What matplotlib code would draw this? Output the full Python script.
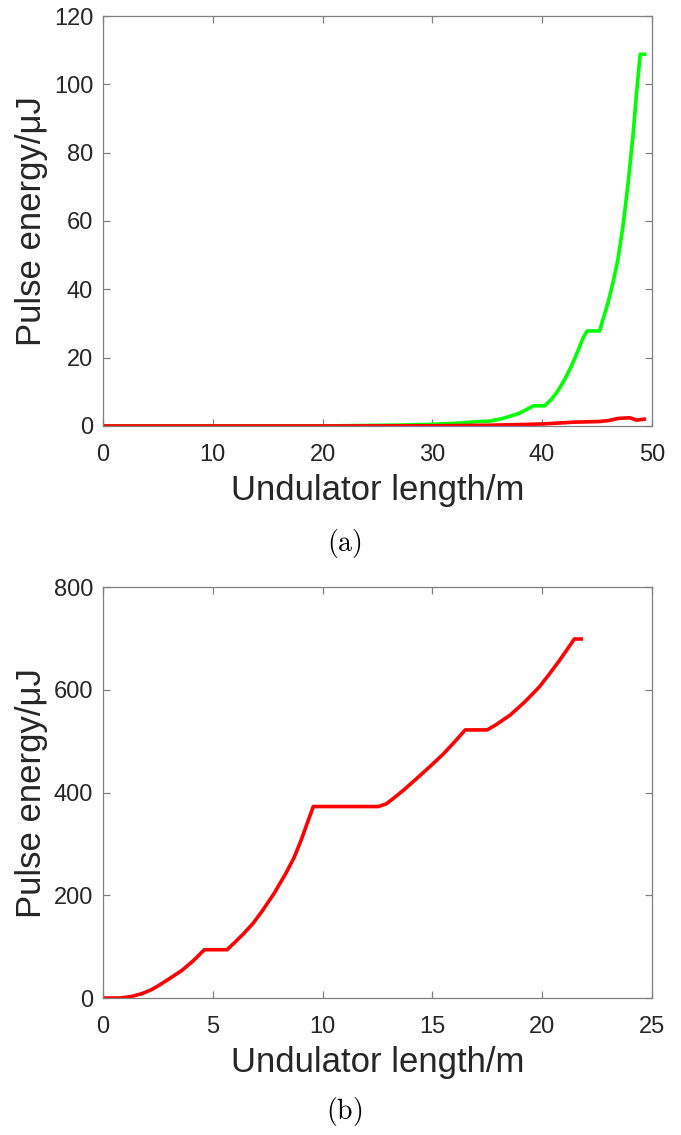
import numpy as np
import matplotlib
matplotlib.use('Agg')
import matplotlib.pyplot as plt

# (a) green curve
xa_green = [0, 10, 20, 27.1, 30.1, 32.2, 34.3, 35.2, 36.15, 37.06, 37.97, 38.7, 39.2, 40.24,
            40.85, 41.45, 42.06, 42.67, 43.27, 43.7, 44.1, 45.24, 45.5, 46.0, 46.45, 46.9,
            47.36, 47.8, 48.27, 48.6, 48.94, 49.33]
ya_green = [0, 0, 0, 0.25, 0.5, 0.8, 1.3, 1.4, 2.0, 2.8, 3.8, 5.0, 5.9, 5.9,
            7.8, 10.3, 13.6, 17.5, 22.0, 25.5, 27.8, 27.8, 30.7, 36.0, 41.8, 48.6,
            58.3, 70.0, 84.6, 97.2, 108.8, 108.8]
# (a) red curve
xa_red = [0, 10, 20, 30, 35, 38, 40.1, 42.8, 45.2, 46.1, 46.9, 48.0, 48.6, 49.3]
ya_red = [0, 0, 0, 0.05, 0.2, 0.4, 0.6, 1.1, 1.3, 1.6, 2.2, 2.4, 1.7, 2.0]

# (b) red curve
xb = [0, 0.8, 1.3, 1.77, 2.2, 2.55, 3.0, 3.6, 4.1, 4.62, 5.65, 6.0, 6.4, 6.85, 7.27, 7.8,
      8.32, 8.7, 9.02, 9.3, 9.58, 12.55, 12.9, 13.2, 13.7, 14.27, 14.9, 15.5, 16.0, 16.5,
      17.5, 17.9, 18.55, 19.2, 19.86, 20.3, 20.73, 21.1, 21.47, 21.78]
yb = [0, 0, 3, 8.4, 16, 24.6, 37, 53.8, 72, 94, 94, 108, 125, 146, 170.5, 204,
      242, 273, 306.6, 340, 372.8, 372.8, 378, 387.7, 405, 426.6, 451, 475, 498, 522,
      522, 532, 551, 576, 605, 629, 653.5, 676, 699, 699]

plt.rcParams['font.family'] = ['Liberation Sans', 'DejaVu Sans']
plt.rcParams['mathtext.fontset'] = 'cm'

axis_col = '#808080'
text_col = '#262626'

fig = plt.figure(figsize=(6.81, 11.35), dpi=100)
ax1 = fig.add_axes([0.1512, 0.6247, 0.806, 0.3612])
ax2 = fig.add_axes([0.1512, 0.1207, 0.806, 0.362])

ax1.plot(xa_green, ya_green, color='#00ff00', lw=2.6, solid_joinstyle='round')
ax1.plot(xa_red, ya_red, color='#ff0000', lw=2.6, solid_joinstyle='round')
ax1.set_xlim(0, 50)
ax1.set_ylim(0, 120)
ax1.set_xticks([0, 10, 20, 30, 40, 50])
ax1.set_yticks([0, 20, 40, 60, 80, 100, 120])

ax2.plot(xb, yb, color='#ff0000', lw=2.6, solid_joinstyle='round')
ax2.set_xlim(0, 25)
ax2.set_ylim(0, 800)
ax2.set_xticks([0, 5, 10, 15, 20, 25])
ax2.set_yticks([0, 200, 400, 600, 800])

for ax in (ax1, ax2):
    for s in ax.spines.values():
        s.set_color(axis_col)
        s.set_linewidth(0.9)
    ax.tick_params(direction='in', length=5, width=0.9, color=axis_col,
                   labelcolor=text_col, labelsize=17, top=True, right=True)
    ax.tick_params(axis='x', pad=13)
    ax.tick_params(axis='y', pad=7)
    ax.set_xlabel('Undulator length/m', fontsize=25, color=text_col, labelpad=6)
    ax.set_ylabel('Pulse energy/μJ', fontsize=25, color=text_col)
    ax.yaxis.set_label_coords(-0.10, 0.5)

fig.text(0.505, 1 - 543 / 1135, r'$\mathrm{(a)}$', ha='center', va='center', fontsize=20)
fig.text(0.505, 1 - 1112 / 1135, r'$\mathrm{(b)}$', ha='center', va='center', fontsize=20)

fig.savefig('out.png', dpi=100)
